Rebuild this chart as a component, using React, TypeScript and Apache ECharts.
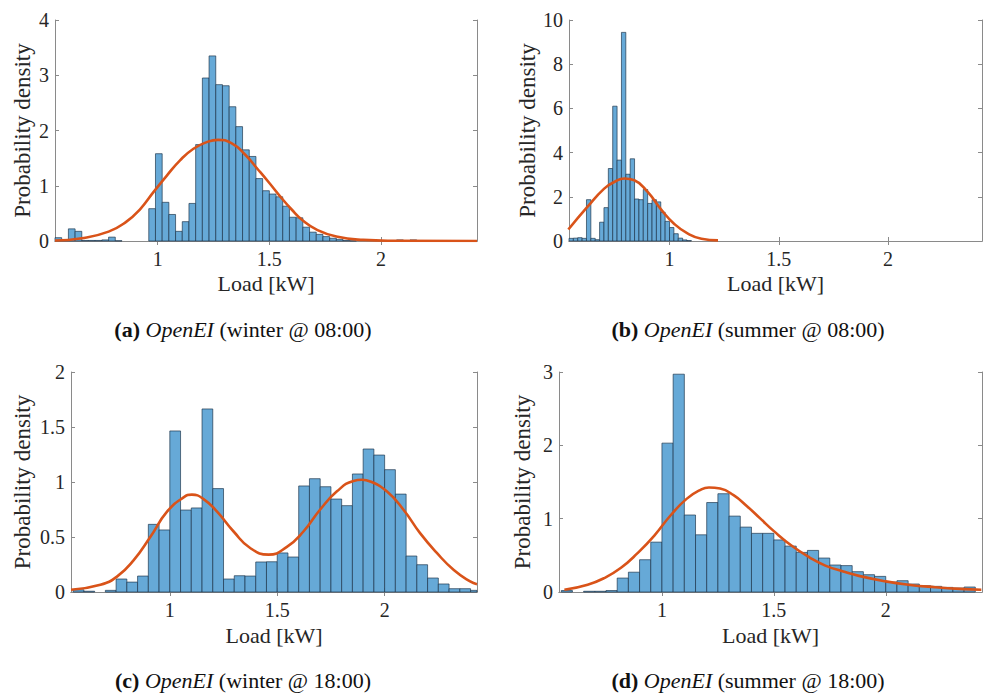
import React, { useEffect, useRef } from "react";
import * as echarts from "echarts";

// Shared load axis (kW)
const loadMin = 0.54;
const loadMax = 2.43;
const loadTicks = [1, 1.5, 2];

// (a) winter @ 08:00 — histogram bins of 0.03 kW from 0.54 kW
const winter08BinStart = 0.54;
const winter08BinWidth = 0.03;
const winter08Density = [
  0.06, 0.01, 0.22, 0.175, 0.01, 0.01, 0.01, 0.02, 0.07, 0.005, 0, 0, 0, 0,
  0.585, 1.58, 0.7, 0.48, 0.175, 0.35, 0.68, 1.745, 2.95, 3.35, 2.83, 2.81,
  2.43, 2.07, 1.65, 1.53, 1.13, 0.91, 0.85, 0.8, 0.63, 0.43, 0.42, 0.25, 0.16,
  0.12, 0.08, 0.05, 0.03, 0.01, 0.005, 0, 0, 0, 0, 0, 0, 0.02, 0, 0.02,
];
const winter08Fit = [
  [0.54, 0.01], [0.66, 0.05], [0.78, 0.17], [0.86, 0.35], [0.92, 0.57],
  [0.98, 0.88], [1.04, 1.18], [1.1, 1.46], [1.16, 1.67], [1.22, 1.79],
  [1.27, 1.83], [1.33, 1.77], [1.39, 1.57], [1.45, 1.29], [1.5, 1.05],
  [1.55, 0.8], [1.6, 0.57], [1.65, 0.37], [1.71, 0.21], [1.8, 0.08],
  [1.92, 0.02], [2.05, 0.005], [2.43, 0],
];

// (b) summer @ 08:00 — histogram bins of 0.02 kW from 0.54 kW
const summer08BinStart = 0.54;
const summer08BinWidth = 0.02;
const summer08Density = [
  0.12, 0.13, 0.15, 0.12, 1.87, 0.12, 0.06, 0.85, 1.51, 3.28, 6.1, 3.66, 9.44,
  3.02, 3.72, 1.9, 1.87, 2.33, 1.7, 1.87, 1.77, 1.3, 0.89, 0.61, 0.33, 0.13,
  0.05, 0.02,
];
const summer08Fit = [
  [0.537, 0.52], [0.624, 1.54], [0.701, 2.37], [0.747, 2.67], [0.793, 2.83],
  [0.839, 2.75], [0.9, 2.22], [0.962, 1.42], [1.023, 0.76], [1.084, 0.33],
  [1.146, 0.1], [1.222, 0.03],
];

// (c) winter @ 18:00 — histogram bins of 0.05 kW from 0.55 kW
const winter18BinStart = 0.55;
const winter18BinWidth = 0.05;
const winter18Density = [
  0.02, 0.007, 0, 0.015, 0.118, 0.09, 0.145, 0.615, 0.564, 1.464, 0.745,
  0.764, 1.664, 0.94, 0.118, 0.148, 0.145, 0.273, 0.275, 0.355, 0.318, 0.964,
  1.03, 0.957, 0.845, 0.785, 1.073, 1.3, 1.245, 1.112, 0.89, 0.327, 0.248,
  0.127, 0.073, 0.03, 0.03, 0.015,
];
const winter18Fit = [
  [0.54, 0.02], [0.677, 0.066], [0.754, 0.14], [0.832, 0.29], [0.909, 0.5],
  [0.987, 0.73], [1.064, 0.86], [1.103, 0.885], [1.157, 0.845], [1.22, 0.73],
  [1.297, 0.55], [1.374, 0.4], [1.46, 0.34], [1.545, 0.41],
  [1.622, 0.55], [1.7, 0.75], [1.778, 0.915], [1.855, 1.01], [1.894, 1.02],
  [1.933, 1.005], [2.01, 0.915], [2.087, 0.75], [2.165, 0.535], [2.243, 0.355],
  [2.322, 0.2], [2.398, 0.096], [2.43, 0.07],
];

// (d) summer @ 18:00 — histogram bins of 0.05 kW from 0.55 kW
const summer18BinStart = 0.55;
const summer18BinWidth = 0.05;
const summer18Density = [
  0.02, 0, 0.01, 0.01, 0.02, 0.19, 0.27, 0.44, 0.68, 2.03, 2.97, 1.05, 0.78,
  1.22, 1.34, 1.035, 0.885, 0.8, 0.8, 0.71, 0.626, 0.54, 0.567, 0.463, 0.368,
  0.36, 0.277, 0.236, 0.213, 0.136, 0.154, 0.109, 0.086, 0.077, 0.063, 0.054,
  0.068,
];
const summer18Fit = [
  [0.564, 0.03], [0.668, 0.1], [0.742, 0.19], [0.817, 0.33], [0.891, 0.53],
  [0.966, 0.77], [1.04, 1.05], [1.11, 1.27], [1.17, 1.39], [1.21, 1.425],
  [1.26, 1.41], [1.32, 1.32], [1.38, 1.17], [1.44, 1.0], [1.5, 0.83],
  [1.58, 0.63], [1.66, 0.47], [1.73, 0.36], [1.81, 0.28], [1.88, 0.22],
  [2.0, 0.145], [2.1, 0.1], [2.22, 0.065], [2.33, 0.042], [2.427, 0.031],
];

// Density axis ranges
const densityMax = [4, 10, 2, 3];
const densityStep = [1, 2, 0.5, 1];

// Sub-figure captions
const captionTag = ["(a)", "(b)", "(c)", "(d)"];
const captionRest = [
  "(winter @ 08:00)",
  "(summer @ 08:00)",
  "(winter @ 18:00)",
  "(summer @ 18:00)",
];

const AXIS_GRAY = "#8a8a8a";
const TEXT = "#262626";
const BAR_FILL = "#66a9d7";
const BAR_EDGE = "rgba(28,52,74,0.85)";
const FIT = "#d95319";
const FONT = "'Liberation Serif', serif";

const panels = [
  { start: winter08BinStart, width: winter08BinWidth, density: winter08Density, fit: winter08Fit },
  { start: summer08BinStart, width: summer08BinWidth, density: summer08Density, fit: summer08Fit },
  { start: winter18BinStart, width: winter18BinWidth, density: winter18Density, fit: winter18Fit },
  { start: summer18BinStart, width: summer18BinWidth, density: summer18Density, fit: summer18Fit },
];

const grids = [
  { left: 55, top: 20, width: 422, height: 221 },
  { left: 569, top: 20, width: 413, height: 221 },
  { left: 71, top: 372, width: 406, height: 220 },
  { left: 559, top: 372, width: 423, height: 220 },
];
const yNameGap = [21, 29, 37, 25];
const captionPos = [
  [243, 329],
  [748, 329],
  [243, 680],
  [748, 680],
];

function buildOption() {
  const xAxis: any[] = [];
  const yAxis: any[] = [];
  const series: any[] = [];
  const graphic: any[] = [];

  panels.forEach((p, i) => {
    const line = { show: true, lineStyle: { color: AXIS_GRAY, width: 1 } };
    const tick = { show: true, inside: true, length: 4, lineStyle: { color: AXIS_GRAY, width: 1 } };
    xAxis.push({
      gridIndex: i,
      type: "value",
      min: loadMin,
      max: loadMax,
      axisLine: line,
      axisTick: { ...tick, customValues: loadTicks },
      axisLabel: {
        customValues: loadTicks,
        color: TEXT,
        fontFamily: FONT,
        fontSize: 20,
        margin: 8,
      },
      splitLine: { show: false },
      name: "Load [kW]",
      nameLocation: "middle",
      nameGap: i < 2 ? 31 : 32,
      nameTextStyle: { color: TEXT, fontFamily: FONT, fontSize: 22 },
    });
    xAxis.push({
      gridIndex: i,
      type: "value",
      position: "top",
      min: loadMin,
      max: loadMax,
      axisLine: line,
      axisTick: { ...tick, customValues: loadTicks },
      axisLabel: { show: false },
      splitLine: { show: false },
    });
    yAxis.push({
      gridIndex: i,
      type: "value",
      min: 0,
      max: densityMax[i],
      interval: densityStep[i],
      axisLine: line,
      axisTick: tick,
      axisLabel: { color: TEXT, fontFamily: FONT, fontSize: 20, margin: 6 },
      splitLine: { show: false },
      name: "Probability density",
      nameLocation: "middle",
      nameRotate: 90,
      nameGap: yNameGap[i],
      nameTextStyle: { color: TEXT, fontFamily: FONT, fontSize: 23 },
    });
    yAxis.push({
      gridIndex: i,
      type: "value",
      position: "right",
      min: 0,
      max: densityMax[i],
      interval: densityStep[i],
      axisLine: line,
      axisTick: tick,
      axisLabel: { show: false },
      splitLine: { show: false },
    });

    const bins = p.density
      .map((h, k) => [p.start + k * p.width, p.start + (k + 1) * p.width, h])
      .filter((b) => b[2] > 0);

    series.push({
      type: "custom",
      xAxisIndex: 2 * i,
      yAxisIndex: 2 * i,
      data: bins,
      encode: { x: [0, 1], y: 2 },
      renderItem: (params: any, api: any) => {
        const a = api.coord([api.value(0), api.value(2)]);
        const b = api.coord([api.value(1), 0]);
        const cs = params.coordSys;
        const shape = echarts.graphic.clipRectByRect(
          { x: a[0], y: a[1], width: b[0] - a[0], height: b[1] - a[1] },
          { x: cs.x, y: cs.y, width: cs.width, height: cs.height }
        );
        if (!shape) return null;
        return {
          type: "rect",
          shape,
          style: { fill: BAR_FILL, stroke: BAR_EDGE, lineWidth: 0.8 },
        };
      },
      z: 2,
    });
    series.push({
      type: "line",
      xAxisIndex: 2 * i,
      yAxisIndex: 2 * i,
      data: p.fit,
      showSymbol: false,
      smooth: 0.5,
      lineStyle: { color: FIT, width: 2.6 },
      z: 3,
    });

    const fontBase = { fontFamily: FONT, fontSize: 22, fill: "#111" };
    graphic.push({
      type: "text",
      x: captionPos[i][0],
      y: captionPos[i][1],
      style: {
        text: `{b|${captionTag[i]}} {i|OpenEI} {r|${captionRest[i]}}`,
        align: "center",
        verticalAlign: "middle",
        ...fontBase,
        rich: {
          b: { ...fontBase, fontWeight: "bold" },
          i: { ...fontBase, fontStyle: "italic" },
          r: { ...fontBase },
        },
      },
    });
  });

  return {
    animation: false,
    backgroundColor: "#ffffff",
    textStyle: { fontFamily: FONT, color: TEXT },
    grid: grids,
    xAxis,
    yAxis,
    series,
    graphic,
  };
}

export default function App() {
  const ref = useRef<HTMLDivElement>(null);
  useEffect(() => {
    if (!ref.current) return;
    const chart = echarts.init(ref.current, null, { renderer: "svg" });
    chart.setOption(buildOption() as any);
    return () => chart.dispose();
  }, []);
  return (
    <div
      ref={ref}
      style={{ position: "fixed", left: 0, top: 0, width: 988, height: 695, background: "#fff" }}
    />
  );
}
